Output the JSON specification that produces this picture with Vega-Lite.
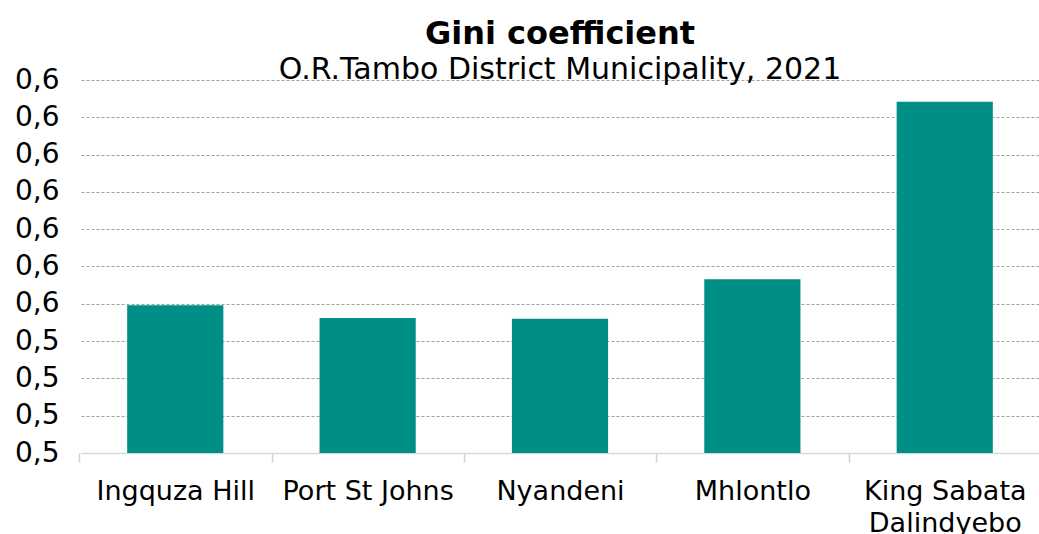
{
  "$schema": "https://vega.github.io/schema/vega-lite/v6.json",
  "width": 958,
  "height": 373,
  "autosize": "none",
  "padding": {"left": 81, "top": 80, "right": 0, "bottom": 81},
  "background": "white",
  "title": {
    "text": "Gini coefficient",
    "subtitle": "O.R.Tambo District Municipality, 2021",
    "font": "DejaVu Sans",
    "fontSize": 32,
    "fontWeight": "bold",
    "color": "#000000",
    "subtitleFont": "DejaVu Sans",
    "subtitleFontSize": 30,
    "subtitleColor": "#000000",
    "subtitlePadding": 4,
    "anchor": "middle",
    "offset": -20
  },
  "data": {
    "values": [
      {"region": "Ingquza Hill", "gini": 0.5498},
      {"region": "Port St Johns", "gini": 0.5481},
      {"region": "Nyandeni", "gini": 0.5480},
      {"region": "Mhlontlo", "gini": 0.5533},
      {"region": "King Sabata Dalindyebo", "gini": 0.5771}
    ]
  },
  "mark": {"type": "bar", "color": "#008F86", "clip": true},
  "encoding": {
    "x": {
      "field": "region",
      "type": "nominal",
      "sort": null,
      "scale": {"paddingInner": 0.5, "paddingOuter": 0.24},
      "axis": {
        "title": null,
        "labelAngle": 0,
        "labelFont": "DejaVu Sans",
        "labelFontSize": 27,
        "labelColor": "#000000",
        "labelPadding": 16,
        "labelLimit": 400,
        "labelLineHeight": 32,
        "labelOffset": 96,
        "labelExpr": "datum.label == 'King Sabata Dalindyebo' ? ['King Sabata', 'Dalindyebo'] : datum.label",
        "ticks": true,
        "tickOffset": -96,
        "tickSize": 9,
        "tickColor": "#d0d0d0",
        "tickWidth": 1.5,
        "domainColor": "#d9d9d9",
        "domainWidth": 1.5,
        "grid": false
      }
    },
    "y": {
      "field": "gini",
      "type": "quantitative",
      "scale": {"domain": [0.53, 0.58], "zero": false, "nice": false},
      "axis": {
        "title": null,
        "values": [0.53, 0.535, 0.54, 0.545, 0.55, 0.555, 0.56, 0.565, 0.57, 0.575, 0.58],
        "labelExpr": "replace(format(datum.value, '.1f'), '.', ',')",
        "labelFont": "DejaVu Sans",
        "labelFontSize": 28,
        "labelColor": "#000000",
        "labelPadding": 22,
        "domain": false,
        "ticks": false,
        "grid": true,
        "gridColor": "#a0a0a0",
        "gridDash": [3, 2],
        "gridWidth": 1
      }
    }
  },
  "config": {"view": {"stroke": null}}
}
